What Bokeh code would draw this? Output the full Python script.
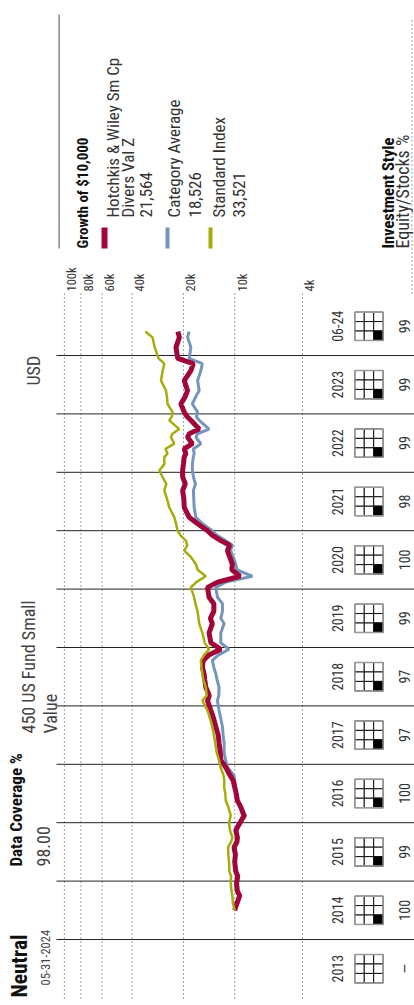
import math
from bokeh.plotting import figure
from bokeh.models import Range1d, LinearScale
from bokeh.core.properties import value
from bokeh.embed import file_html
from bokeh.resources import INLINE

FONT = "Roboto Condensed, Roboto, sans-serif"

# ---------------- data ----------------
dates = [2014.50, 2014.62, 2014.75, 2014.83, 2014.96, 2015.08, 2015.17, 2015.33, 2015.45, 2015.58,
         2015.67, 2015.75, 2015.87, 2016.00, 2016.12, 2016.27, 2016.38, 2016.50, 2016.61, 2016.72,
         2016.81, 2016.95, 2017.07, 2017.20, 2017.36, 2017.50, 2017.64, 2017.80, 2017.92, 2018.09,
         2018.18, 2018.32, 2018.45, 2018.55, 2018.66, 2018.78, 2018.87, 2018.97, 2019.08, 2019.25,
         2019.41, 2019.50, 2019.62, 2019.75, 2019.86, 2020.03, 2020.12, 2020.22, 2020.33, 2020.43,
         2020.55, 2020.66, 2020.75, 2020.83, 2020.92, 2021.00, 2021.12, 2021.23, 2021.40, 2021.55,
         2021.69, 2021.80, 2021.92, 2022.03, 2022.14, 2022.26, 2022.32, 2022.40, 2022.49, 2022.60,
         2022.66, 2022.74, 2022.89, 2022.95, 2023.03, 2023.17, 2023.30, 2023.40, 2023.57, 2023.74,
         2023.86, 2023.95, 2024.14, 2024.31, 2024.41]

fund = [10000, 9700, 9350, 9650, 9750, 9600, 9860, 10000, 9900, 10090,
        9700, 9640, 9860, 9310, 8820, 9220, 9650, 9800, 10000, 10200,
        10650, 11290, 12070, 12150, 12350, 12500, 12900, 13350, 13800, 14440,
        14100, 14780, 15000, 15130, 15480, 15300, 14200, 12070, 13800, 14140,
        13530, 13900, 13260, 13260, 14140, 14440, 12600, 9300, 10400, 10320,
        10700, 11030, 10700, 12070, 13500, 14440, 16520, 18500, 19780, 19900,
        20220, 19500, 20220, 20220, 20000, 19800, 19350, 19800, 17720, 18920,
        18500, 16160, 18090, 19000, 19780, 20700, 19500, 18920, 19780, 18090,
        17500, 21600, 22130, 21130, 21564]

category = [10000, 9600, 9450, 9740, 9870, 9700, 9950, 10000, 9870, 9950,
            9700, 9600, 9700, 9300, 8620, 9220, 9650, 9750, 9870, 10000,
            10090, 11030, 11300, 11540, 11540, 11700, 11800, 12100, 12360, 12630,
            12400, 12360, 12700, 12910, 13260, 13530, 12500, 10800, 12070, 12070,
            11540, 12070, 11800, 11800, 12630, 12910, 11300, 7880, 9700, 9870,
            10200, 10560, 10300, 11290, 12700, 13530, 15480, 16910, 17300, 17400,
            17470, 17000, 17470, 17720, 17720, 17500, 17300, 17500, 15810, 16910,
            16500, 14140, 16160, 16800, 16520, 17720, 16900, 16160, 16520, 15810,
            15500, 18500, 18090, 18920, 18526]

index = [10000, 10250, 10320, 10450, 10550, 10500, 10750, 10800, 10900, 10930,
         10500, 10320, 10650, 10800, 10550, 10900, 11290, 11350, 11540, 11500,
         11640, 12100, 12360, 12750, 13000, 13250, 13530, 14000, 14440, 15480,
         14600, 14780, 15300, 15480, 15700, 15810, 15130, 14140, 15000, 15480,
         16160, 16300, 16520, 17000, 17300, 18090, 16800, 14780, 16500, 16910,
         18100, 19780, 19000, 19350, 20800, 21650, 22100, 22630, 24230, 25000,
         25900, 25200, 26530, 27700, 25900, 25900, 24800, 25500, 22630, 23670,
         23200, 21150, 24230, 23400, 23160, 24790, 25000, 25320, 27090, 26500,
         25900, 28000, 29500, 30380, 33521]

value_ticks = [100000, 80000, 60000, 40000, 20000, 10000, 4000]
value_tick_labels = ["100k", "80k", "60k", "40k", "20k", "10k", "4k"]

year_start = [2013, 2014, 2015, 2016, 2017, 2018, 2019, 2020, 2021, 2022, 2023, 2024]
year_labels = ["2013", "2014", "2015", "2016", "2017", "2018", "2019", "2020", "2021", "2022", "2023", "06-24"]
equity_pct = ["\u2014", "100", "99", "100", "97", "97", "99", "100", "98", "99", "99", "99"]
style_small_value = [False, True, True, True, True, True, True, True, True, True, True, True]

legend_lines = [["Hotchkis & Wiley Sm Cp", "Divers Val Z", "21,564"],
                ["Category Average", "18,526"],
                ["Standard Index", "33,521"]]

RED = "#a1053a"
BLUE = "#7595bd"
YELLOW = "#a6ad0a"

# ---------------- figure ----------------
# (the page template has no body margin, so the figure sits at the page origin)
W, H = 414, 1000
YEAR_PX = 58.4          # vertical pixels per year
Y2014 = 939             # pixel row of the 2014 boundary
p = figure(width=W, height=H, x_axis_type="log",
           x_range=Range1d(237240, 879.5),
           y_range=Range1d(2014 - (H - Y2014) / YEAR_PX, 2014 + Y2014 / YEAR_PX),
           x_axis_location=None, y_axis_location=None,
           output_backend="svg", toolbar_location=None, min_border=0)
p.outline_line_color = None
p.grid.visible = False
p.background_fill_color = "white"
p.border_fill_color = "white"

# pixel layout ranges for decorations/text
p.extra_x_ranges = {"px": Range1d(0, W)}
p.extra_x_scales = {"px": LinearScale()}
p.extra_y_ranges = {"py": Range1d(H, 0)}
p.extra_y_scales = {"py": LinearScale()}

# dotted value gridlines
n = len(value_ticks)
p.segment(x0=value_ticks, x1=value_ticks, y0=[293] * n, y1=[H] * n, y_range_name="py",
          line_color="#444444", line_width=1, line_dash="1 3")

# year separators
bounds = year_start[1:]
p.segment(x0=[56] * len(bounds), x1=[W] * len(bounds), y0=bounds, y1=bounds,
          x_range_name="px", line_color="#222222", line_width=1)

# series lines
p.line(x=category, y=dates, line_color=BLUE, line_width=3)
p.line(x=fund, y=dates, line_color=RED, line_width=5)
p.line(x=index, y=dates, line_color=YELLOW, line_width=2.5)

ANG = math.pi / 2

# value tick labels
p.text(x=value_ticks, y=[291] * n, text=value_tick_labels, y_range_name="py", angle=ANG,
       x_offset=7.5, text_align="left", text_baseline="alphabetic",
       text_font=value(FONT), text_font_size="12.5px", text_color="#333333")


def vtext(x, y, s, size, bold=False, color="#333333"):
    p.text(x=[x], y=[y], text=[s], x_range_name="px", y_range_name="py", angle=ANG,
           text_align="left", text_baseline="alphabetic", text_font=value(FONT),
           text_font_size=f"{size}px", text_font_style="bold" if bold else "normal",
           text_color=color)


# header texts
vtext(18.5, 997, "Neutral", 21.5, bold=True, color="#111111")
vtext(45, 985, "05-31-2024", 12.5, color="#444444")
vtext(15.5, 866, "Data Coverage %", 17, bold=True, color="#111111")
vtext(43, 866, "98.00", 18, color="#444444")
vtext(28, 733, "450 US Fund Small", 18, color="#444444")
vtext(50, 733, "Value", 18, color="#444444")
vtext(33, 385, "USD", 18, color="#444444")

# legend block
p.segment(x0=[58.7], x1=[58.7], y0=[14], y1=[248], x_range_name="px", y_range_name="py",
          line_color="#888888", line_width=1.5)
vtext(82, 248, "Growth of $10,000", 15, bold=True, color="#111111")
p.rect(x=[104, 167, 210], y=[237.5] * 3, width=[6, 4, 4], height=[21] * 3,
       x_range_name="px", y_range_name="py", fill_color=[RED, BLUE, YELLOW], line_color=None)
legend_baselines = [[112, 127, 145], [173, 194], [218, 238]]
for lines, bases in zip(legend_lines, legend_baselines):
    for s, b in zip(lines, bases):
        vtext(b, 217, s, 17, color="#333333")

vtext(388, 248, "Investment Style", 16.5, bold=True, color="#111111")
vtext(402, 248, "Equity/Stocks %", 18, color="#333333")
p.segment(x0=[411.5], x1=[411.5], y0=[20], y1=[293], x_range_name="px", y_range_name="py",
          line_color="#444444", line_width=1, line_dash="1 3")

# table: year labels and equity %
centers = [y + 0.5 for y in year_start]
m = len(centers)
p.text(x=[337] * m, y=centers, text=year_labels, x_range_name="px", angle=ANG,
       text_align="center", text_baseline="alphabetic", text_font=value(FONT),
       text_font_size="14px", text_color="#333333")
p.text(x=[404] * m, y=centers, text=equity_pct, x_range_name="px", angle=ANG,
       text_align="center", text_baseline="alphabetic", text_font=value(FONT),
       text_font_size="14px", text_color="#333333")

# style boxes (3x3)
cell = 9.45
cell_yr = cell / YEAR_PX
box_left = 354.3
cx, cy = [], []
fx, fy = [], []
for c, filled in zip(centers, style_small_value):
    for col in range(3):
        for row in range(3):
            cx.append(box_left + (col + 0.5) * cell)
            cy.append(c + (1 - row) * cell_yr)
    if filled:
        fx.append(box_left + 2.5 * cell)
        fy.append(c - cell_yr)
p.rect(x=cx, y=cy, width=cell, height=cell, height_units="screen", x_range_name="px",
       fill_color="white", line_color="#111111", line_width=1)
p.rect(x=fx, y=fy, width=cell, height=cell, height_units="screen", x_range_name="px",
       fill_color="black", line_color="#111111", line_width=1)
p.rect(x=[box_left + 1.5 * cell] * m, y=centers, width=3 * cell, height=3 * cell,
       height_units="screen", x_range_name="px", fill_color=None,
       line_color="#9a9a9a", line_width=1.5)

open("out.html", "w").write(file_html(p, INLINE))
